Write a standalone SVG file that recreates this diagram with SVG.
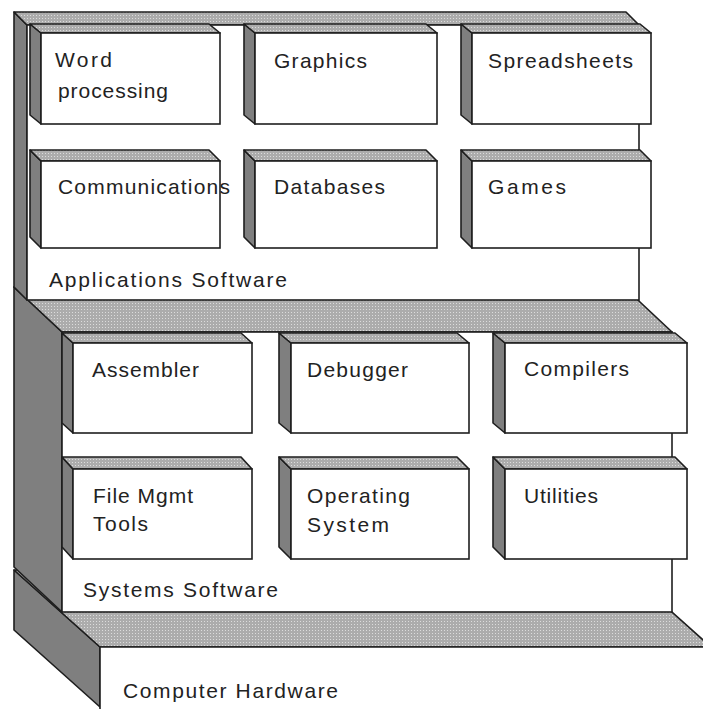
<svg xmlns="http://www.w3.org/2000/svg" width="703" height="709" viewBox="0 0 703 709">
<defs>
<pattern id="dots" width="3" height="3" patternUnits="userSpaceOnUse">
<rect width="3" height="3" fill="#acacac"/>
<rect width="1" height="1" fill="#dcdcdc"/>
</pattern>
<style>
.side{fill:#7f7f7f;stroke:#1e1e1e;stroke-width:1.6;stroke-linejoin:round}
.top{fill:url(#dots);stroke:#1e1e1e;stroke-width:1.6;stroke-linejoin:round}
.front{fill:#ffffff;stroke:#1e1e1e;stroke-width:1.6}
.lbl{font-family:"Liberation Sans",Arial,sans-serif;font-size:21px;fill:#222222}
</style>
</defs>
<rect width="703" height="709" fill="#ffffff"/>

<g id="hardware">
<polygon class="side" points="14,570 100,647 100,707 14,630"/>
<polygon class="top" points="14,570 625,570 711,647 100,647"/>
<path class="front" d="M100,720 L100,647 L720,647"/>
<text class="lbl" x="123" y="698" textLength="215" lengthAdjust="spacing">Computer Hardware</text>
</g>

<g id="systems-software">
<polygon class="side" points="14,287 62,332 62,612 14,567"/>
<polygon class="top" points="14,287 624,287 672,332 62,332"/>
<rect class="front" x="62" y="332" width="610" height="280"/>
<text class="lbl" x="83" y="597" textLength="195" lengthAdjust="spacing">Systems Software</text>
</g>

<g id="applications-software">
<polygon class="side" points="14,12 27,25 27,300 14,287"/>
<polygon class="top" points="14,12 626,12 639,25 27,25"/>
<rect class="front" x="27" y="25" width="612" height="275"/>
<text class="lbl" x="49" y="287" textLength="238" lengthAdjust="spacing">Applications Software</text>
</g>

<g id="word-processing">
<polygon class="side" points="30,24 41,33 41,124 30,115"/>
<polygon class="top" points="30,24 209,24 220,33 41,33"/>
<rect class="front" x="41" y="33" width="179" height="91"/>
<text class="lbl" x="55" y="67" textLength="57" lengthAdjust="spacing">Word</text>
<text class="lbl" x="58" y="98" textLength="110" lengthAdjust="spacing">processing</text>
</g>
<g id="graphics">
<polygon class="side" points="244,24 255,33 255,124 244,115"/>
<polygon class="top" points="244,24 426,24 437,33 255,33"/>
<rect class="front" x="255" y="33" width="182" height="91"/>
<text class="lbl" x="274" y="68" textLength="93" lengthAdjust="spacing">Graphics</text>
</g>
<g id="spreadsheets">
<polygon class="side" points="461,24 472,33 472,124 461,115"/>
<polygon class="top" points="461,24 640,24 651,33 472,33"/>
<rect class="front" x="472" y="33" width="179" height="91"/>
<text class="lbl" x="488" y="68" textLength="145" lengthAdjust="spacing">Spreadsheets</text>
</g>
<g id="communications">
<polygon class="side" points="30,150 41,161 41,248 30,237"/>
<polygon class="top" points="30,150 209,150 220,161 41,161"/>
<rect class="front" x="41" y="161" width="179" height="87"/>
<text class="lbl" x="58" y="194" textLength="172" lengthAdjust="spacing">Communications</text>
</g>
<g id="databases">
<polygon class="side" points="244,150 255,161 255,248 244,237"/>
<polygon class="top" points="244,150 426,150 437,161 255,161"/>
<rect class="front" x="255" y="161" width="182" height="87"/>
<text class="lbl" x="274" y="194" textLength="111" lengthAdjust="spacing">Databases</text>
</g>
<g id="games">
<polygon class="side" points="461,150 472,161 472,248 461,237"/>
<polygon class="top" points="461,150 640,150 651,161 472,161"/>
<rect class="front" x="472" y="161" width="179" height="87"/>
<text class="lbl" x="488" y="194" textLength="78" lengthAdjust="spacing">Games</text>
</g>

<g id="assembler">
<polygon class="side" points="62,333 73,343 73,433 62,423"/>
<polygon class="top" points="62,333 241,333 252,343 73,343"/>
<rect class="front" x="73" y="343" width="179" height="90"/>
<text class="lbl" x="92" y="377" textLength="107" lengthAdjust="spacing">Assembler</text>
</g>
<g id="debugger">
<polygon class="side" points="279,333 291,343 291,433 279,423"/>
<polygon class="top" points="279,333 457,333 469,343 291,343"/>
<rect class="front" x="291" y="343" width="178" height="90"/>
<text class="lbl" x="307" y="377" textLength="101" lengthAdjust="spacing">Debugger</text>
</g>
<g id="compilers">
<polygon class="side" points="493,333 505,343 505,433 493,423"/>
<polygon class="top" points="493,333 675,333 687,343 505,343"/>
<rect class="front" x="505" y="343" width="182" height="90"/>
<text class="lbl" x="524" y="376" textLength="105" lengthAdjust="spacing">Compilers</text>
</g>
<g id="file-mgmt-tools">
<polygon class="side" points="62,457 73,469 73,559 62,547"/>
<polygon class="top" points="62,457 241,457 252,469 73,469"/>
<rect class="front" x="73" y="469" width="179" height="90"/>
<text class="lbl" x="93" y="503" textLength="100" lengthAdjust="spacing">File Mgmt</text>
<text class="lbl" x="93" y="531" textLength="55" lengthAdjust="spacing">Tools</text>
</g>
<g id="operating-system">
<polygon class="side" points="279,457 291,469 291,559 279,547"/>
<polygon class="top" points="279,457 457,457 469,469 291,469"/>
<rect class="front" x="291" y="469" width="178" height="90"/>
<text class="lbl" x="307" y="503" textLength="103" lengthAdjust="spacing">Operating</text>
<text class="lbl" x="307" y="532" textLength="82" lengthAdjust="spacing">System</text>
</g>
<g id="utilities">
<polygon class="side" points="493,457 505,469 505,559 493,547"/>
<polygon class="top" points="493,457 675,457 687,469 505,469"/>
<rect class="front" x="505" y="469" width="182" height="90"/>
<text class="lbl" x="524" y="503" textLength="74" lengthAdjust="spacing">Utilities</text>
</g>
</svg>
